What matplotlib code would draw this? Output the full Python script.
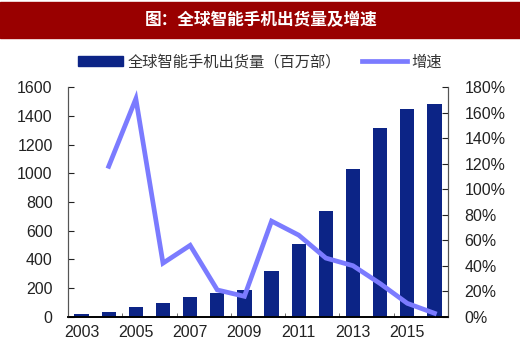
import matplotlib
matplotlib.use("Agg")
import matplotlib.pyplot as plt
from matplotlib.patches import Patch, Rectangle
from matplotlib.lines import Line2D
from matplotlib.ticker import FuncFormatter, FixedLocator

plt.rcParams["font.family"] = ["Liberation Sans", "Noto Sans CJK SC", "DejaVu Sans"]

# data
years = [2003, 2004, 2005, 2006, 2007, 2008, 2009, 2010, 2011, 2012, 2013, 2014, 2015, 2016]
shipments = [22, 34, 68, 96, 140, 162, 188, 320, 510, 740, 1030, 1315, 1450, 1485]
growth = [None, 1.18, 1.71, 0.42, 0.56, 0.21, 0.16, 0.75, 0.64, 0.46, 0.40, 0.26, 0.105, 0.027]
xtick_years = [2003, 2005, 2007, 2009, 2011, 2013, 2015]

title = "图：全球智能手机出货量及增速"
bar_label = "全球智能手机出货量（百万部）"
line_label = "增速"

bar_color = "#0c2486"
line_color = "#7b7bff"
text_color = "#222222"

fig = plt.figure(figsize=(5.2, 3.64), dpi=100)

# red title banner
fig.patches.append(Rectangle((0, 1 - 37.5 / 364), 1, 35.5 / 364,
                             transform=fig.transFigure, color="#990000", zorder=0))
fig.text(0.503, 1 - 20 / 364, title, color="white", fontsize=12, fontweight="bold",
         ha="center", va="center", family=["Noto Sans CJK SC", "DejaVu Sans"])

ax = fig.add_axes([68 / 520, 1 - 316.7 / 364, 380 / 520, 229.4 / 364])
x = list(range(len(years)))
ax.bar(x, shipments, width=0.53, color=bar_color, zorder=2)
ax.set_xlim(-0.5, len(years) - 0.5)
ax.set_ylim(0, 1600)
ax.set_yticks(range(0, 1601, 200))

ax2 = ax.twinx()
gx = [i for i, g in zip(x, growth) if g is not None]
gy = [g for g in growth if g is not None]
ax2.plot(gx, gy, color=line_color, lw=3.4, zorder=3, solid_joinstyle="miter")
ax2.set_ylim(0, 1.8)
ax2.set_yticks([i / 10 for i in range(0, 19, 2)])
ax2.yaxis.set_major_formatter(FuncFormatter(lambda v, p: f"{v * 100:.0f}%"))

# x labels on every other year, tick marks between category pairs
ax.set_xticks([years.index(y) for y in xtick_years])
ax.set_xticklabels([str(y) for y in xtick_years])
ax.xaxis.set_minor_locator(FixedLocator([i + 0.5 for i in range(1, len(years) - 1, 2)]))
ax.tick_params(axis="x", which="major", length=0, labelsize=11.5, colors=text_color, pad=6)
ax.tick_params(axis="x", which="minor", direction="in", length=3, color="#555555")
ax.tick_params(axis="y", direction="in", length=4, labelsize=11.5, colors=text_color, pad=11)
ax2.tick_params(axis="y", direction="in", length=4, labelsize=11.5, colors=text_color, pad=12)
for label in ax.get_yticklabels() + ax2.get_yticklabels():
    label.set_color(text_color)

for a in (ax, ax2):
    a.spines["top"].set_visible(False)
    a.spines["left"].set_color("#555555")
    a.spines["right"].set_color("#555555")
    a.spines["bottom"].set_color("black")
    a.spines["bottom"].set_linewidth(1.2)

handles = [Patch(facecolor=bar_color, edgecolor=bar_color),
           Line2D([0], [0], color=line_color, lw=3.4)]
fig.legend(handles, [bar_label, line_label], loc="center", ncol=2,
           bbox_to_anchor=(0.5, 1 - 62 / 364), frameon=False,
           prop={"family": ["Noto Sans CJK SC", "DejaVu Sans"], "size": 11},
           handlelength=2.9, handleheight=0.65, handletextpad=0.3,
           columnspacing=1.4, labelcolor="#333333")

fig.savefig("out.png", dpi=100)
